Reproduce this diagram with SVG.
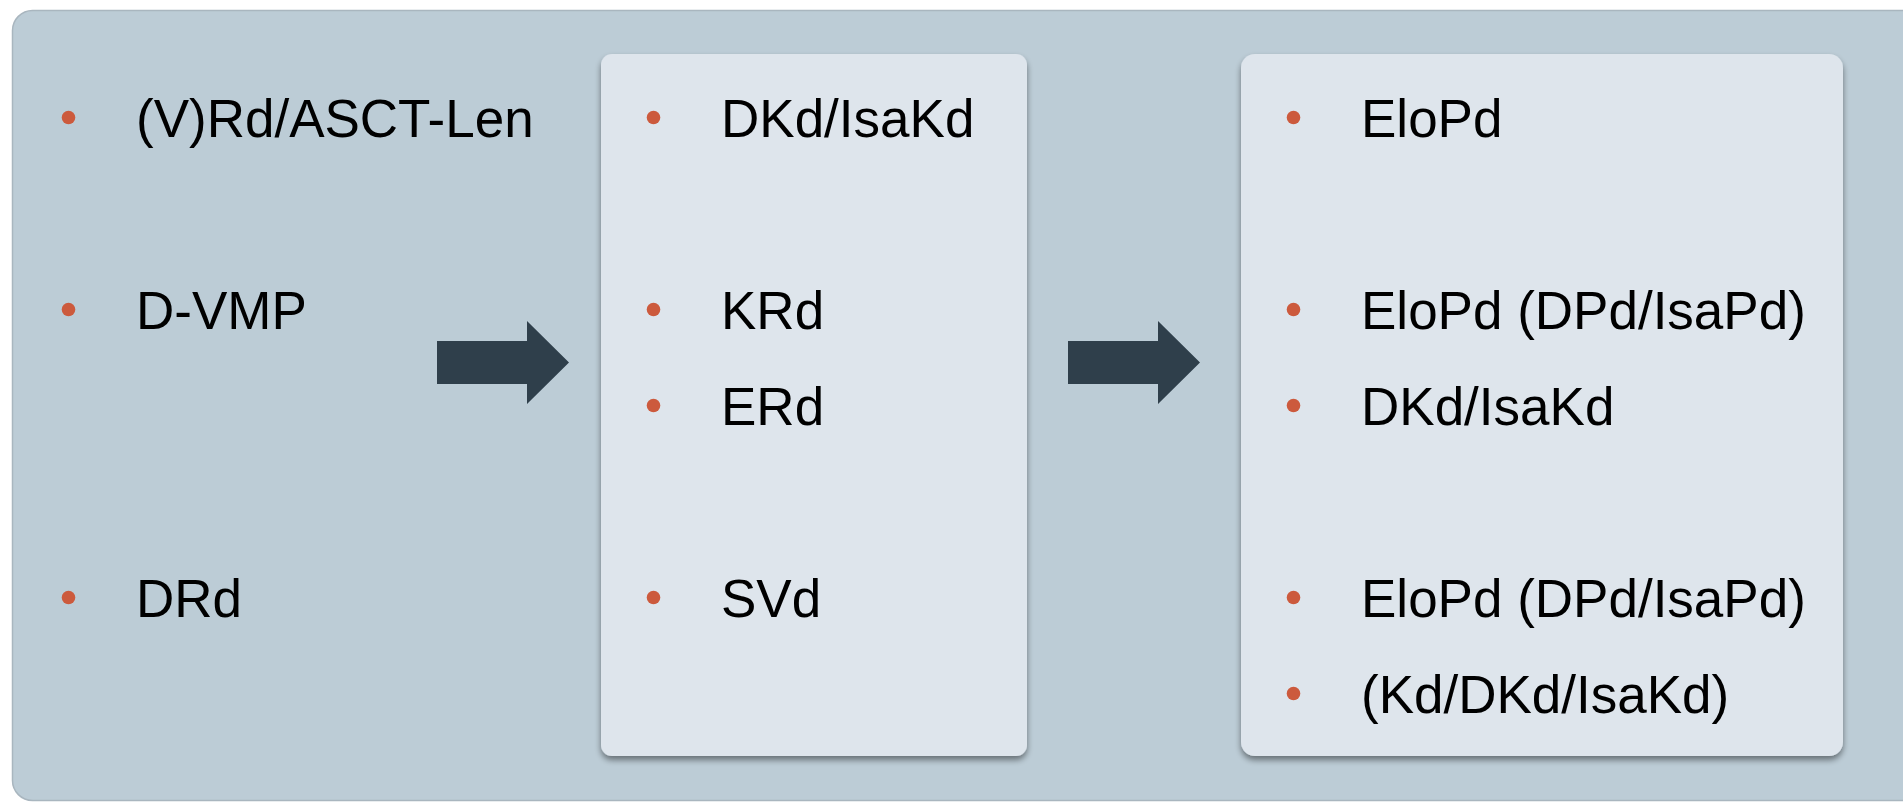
<svg xmlns="http://www.w3.org/2000/svg" width="1903" height="802" viewBox="0 0 1903 802">
  <style>
    .panel { fill: #BCCCD6; stroke: #A9B6BF; stroke-width: 1.5; }
    .box { fill: #DEE5EC; filter: url(#shadow); }
    .bullet { fill: #CC5A3D; }
    .label { font-family: "Liberation Sans", Arial, sans-serif; font-size: 53px; fill: #000000; }
    .arrow { fill: #2F3F4B; }
  </style>
  <defs>
    <filter id="shadow" x="-5%" y="-5%" width="110%" height="112%">
      <feGaussianBlur in="SourceAlpha" stdDeviation="3"/>
      <feOffset dx="0" dy="4" result="b"/>
      <feComponentTransfer><feFuncA type="linear" slope="0.45"/></feComponentTransfer>
      <feMerge><feMergeNode/><feMergeNode in="SourceGraphic"/></feMerge>
    </filter>
  </defs>
  <rect x="0" y="0" width="1903" height="802" fill="#FFFFFF"/>
  <rect class="panel" x="12.5" y="10.5" width="1960" height="790" rx="20"/>

  <g id="col-left">
    <circle class="bullet" cx="68.5" cy="117.5" r="6.8"/>
    <text class="label" x="136" y="137">(V)Rd/ASCT-Len</text>
    <circle class="bullet" cx="68.5" cy="309.5" r="6.8"/>
    <text class="label" x="136" y="329">D-VMP</text>
    <circle class="bullet" cx="68.5" cy="597.5" r="6.8"/>
    <text class="label" x="136" y="617">DRd</text>
  </g>

  <g id="box-middle">
    <rect class="box" x="601" y="54" width="426" height="702" rx="11"/>
    <circle class="bullet" cx="653.5" cy="117.5" r="6.8"/>
    <text class="label" x="721" y="137">DKd/IsaKd</text>
    <circle class="bullet" cx="653.5" cy="309.5" r="6.8"/>
    <text class="label" x="721" y="329">KRd</text>
    <circle class="bullet" cx="653.5" cy="405.5" r="6.8"/>
    <text class="label" x="721" y="425">ERd</text>
    <circle class="bullet" cx="653.5" cy="597.5" r="6.8"/>
    <text class="label" x="721" y="617">SVd</text>
  </g>

  <g id="box-right">
    <rect class="box" x="1241" y="54" width="602" height="702" rx="14"/>
    <circle class="bullet" cx="1293.5" cy="117.5" r="6.8"/>
    <text class="label" x="1361" y="137">EloPd</text>
    <circle class="bullet" cx="1293.5" cy="309.5" r="6.8"/>
    <text class="label" x="1361" y="329">EloPd (DPd/IsaPd)</text>
    <circle class="bullet" cx="1293.5" cy="405.5" r="6.8"/>
    <text class="label" x="1361" y="425">DKd/IsaKd</text>
    <circle class="bullet" cx="1293.5" cy="597.5" r="6.8"/>
    <text class="label" x="1361" y="617">EloPd (DPd/IsaPd)</text>
    <circle class="bullet" cx="1293.5" cy="693.5" r="6.8"/>
    <text class="label" x="1361" y="713">(Kd/DKd/IsaKd)</text>
  </g>

  <g id="connectors">
    <polygon class="arrow" points="437,341 527,341 527,321 569,362.5 527,404 527,384 437,384"/>
    <polygon class="arrow" points="1068,341 1158,341 1158,321 1200,362.5 1158,404 1158,384 1068,384"/>
  </g>
</svg>
